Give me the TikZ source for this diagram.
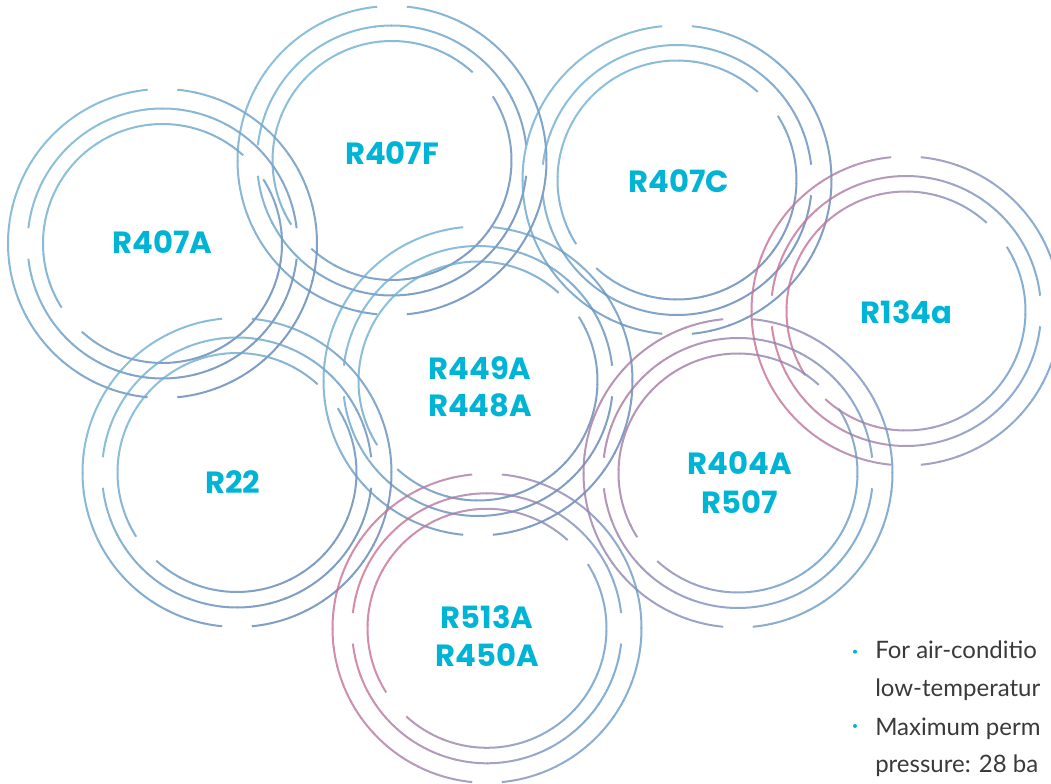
\documentclass[tikz,border=0pt]{standalone}
\usepackage{fontspec}
\setmainfont{Poppins}
\newfontfamily\notefont{Lato}
\usepackage{xcolor}
\usepackage{tikz}

\definecolor{skyring}{RGB}{112,176,210}
\definecolor{slatering}{RGB}{96,132,180}
\definecolor{pinkring}{RGB}{204,110,148}
\definecolor{mauvering}{RGB}{168,120,162}
\definecolor{bluering}{RGB}{102,156,200}
\definecolor{labelcyan}{RGB}{0,180,214}
\definecolor{bodygray}{RGB}{58,58,58}

% three broken rings round (#1,#2); colour #4 faces angle #3 and fades to #5
\newcommand{\gasrings}[5]{%
  \begin{scope}[transparency group, opacity=0.8]
  \foreach \rad/\gapat/\half in {154.5/90/5.5, 135/0/6.5, 119.5/40/7.5} {
    \foreach \side in {0,1} {
      \pgfmathsetmacro\from{\gapat+\side*180+\half}
      \pgfmathsetmacro\seg{(180-2*\half)/24}
      \foreach \i in {0,...,23} {
        \pgfmathsetmacro\sa{\from+\i*\seg}
        \pgfmathsetmacro\da{\seg+(\i<23)*0.4}
        \pgfmathtruncatemacro\wt{50+50*cos(\sa+0.5*\seg-#3)}
        \draw[ring, draw=#4!\wt!#5] ([shift={(\sa:\rad)}]#1,#2)
          arc[start angle=\sa, delta angle=\da, radius=\rad];
      }
    }
  }
  \end{scope}
}

\begin{document}
\begin{tikzpicture}[x=0.75pt, y=0.75pt,
  ring/.style={line width=1.5pt},
  gaslabel/.style={font=\bfseries\fontsize{23}{28}\selectfont, text=labelcyan, inner sep=0pt, anchor=base},
  bodytext/.style={font=\notefont\fontsize{18}{28}\selectfont, text=bodygray, inner sep=0pt, anchor=base west},
  bullet/.style={circle, fill=labelcyan, inner sep=0pt, minimum size=3pt}]

\useasboundingbox (0,0) rectangle (1051,783);
\clip (0,0) rectangle (1051,783);

% rings
\gasrings{162.5}{539.5}{135}{skyring}{slatering}
\gasrings{392}{622.5}{135}{skyring}{slatering}
\gasrings{677}{603}{135}{skyring}{slatering}
\gasrings{237}{310.5}{135}{skyring}{slatering}
\gasrings{478}{402}{135}{skyring}{slatering}
\gasrings{906}{472}{180}{pinkring}{bluering}
\gasrings{738}{310}{150}{mauvering}{bluering}
\gasrings{487}{154.7}{165}{pinkring}{bluering}

% labels
\node[gaslabel] (r407a) at (162.5,529.7) {R407A};
\node[gaslabel] (r407f) at (392,618) {R407F};
\node[gaslabel] (r407c) at (679,590.3) {R407C};
\node[gaslabel] (r134a) at (906.7,459.7) {R134a};
\node[gaslabel] (r449a) at (480,403.7) {R449A};
\node[gaslabel] (r448a) at (480,366.3) {R448A};
\node[gaslabel] (r22) at (233,289.7) {R22};
\node[gaslabel] (r404a) at (740,308) {R404A};
\node[gaslabel] (r507) at (740,269.7) {R507};
\node[gaslabel] (r513a) at (487,154.7) {R513A};
\node[gaslabel] (r450a) at (487,116.3) {R450A};

% notes
\node[bullet] (dot1) at (855,131.3) {};
\node[bullet] (dot2) at (855,57) {};
\node[bodytext] (use1) at (875,124) {For air-conditio};
\node[bodytext] (use2) at (875,86) {low-temperatur};
\node[bodytext] (press1) at (875,48) {Maximum perm};
\node[bodytext] (press2) at (875,11) {pressure: 28 ba};

\end{tikzpicture}
\end{document}
